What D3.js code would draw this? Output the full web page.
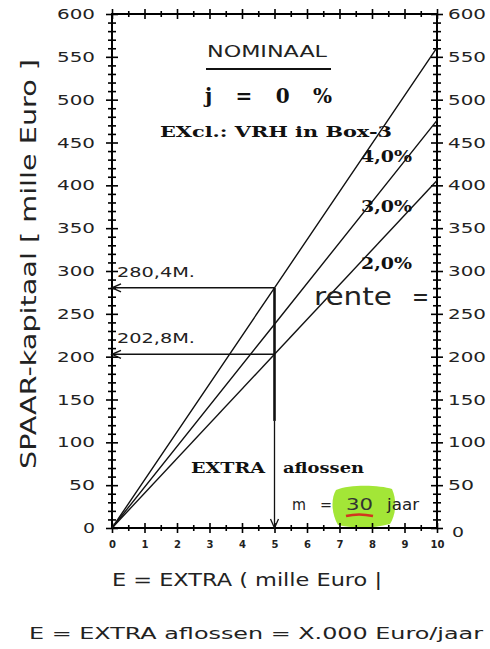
<!DOCTYPE html>
<html>
<head>
<meta charset="utf-8">
<script src="https://cdn.jsdelivr.net/npm/d3@7"></script>
<style>
  html, body { margin: 0; padding: 0; background: #fff; }
  svg { display: block; }
</style>
</head>
<body>
<svg id="chart" width="490" height="649"></svg>
<script>
// ---- data ----
const extraE = [0, 5, 10];                 // E = EXTRA (mille Euro)
const rateLabels = ["4,0%", "3,0%", "2,0%"];
const kapitaal4 = [0, 280.4, 560.8];
const kapitaal3 = [0, 237.9, 475.8];
const kapitaal2 = [0, 202.8, 405.6];
const readE = 5;
const readValues = [280.4, 202.8];
const readLabels = ["280,4M.", "202,8M."];
const xTickValues = [0, 1, 2, 3, 4, 5, 6, 7, 8, 9, 10];
const xMinorTicks = [0.5, 1.5, 2.5, 3.5, 4.5, 5.5, 6.5, 7.5, 8.5, 9.5];
const yTickValues = [0, 50, 100, 150, 200, 250, 300, 350, 400, 450, 500, 550, 600];
const yMinorTicks = d3.range(10, 600, 10).filter(v => v % 50 !== 0);

// ---- layout ----
const svg = d3.select("#chart");
const L = 112, R = 437, T = 14, B = 528;
const x = d3.scaleLinear().domain([0, 10]).range([L, R]);
const y = d3.scaleLinear().domain([0, 600]).range([B, T]);
const sans = "'DejaVu Sans', sans-serif";
const serif = "'DejaVu Serif', serif";

// green highlight behind 30
svg.append("path")
  .attr("d", "M336,490 C350,484 380,485 392,489 C397,500 396,515 390,524 C372,529 350,528 338,525 C331,513 331,498 336,490 Z")
  .attr("fill", "#9ee52c").attr("opacity", 0.95);

// ---- axes ----
function styleAxis(g, cross, horizontal) {
  g.select(".domain").remove();
  g.selectAll(".tick line").attr("stroke", "#000").attr("stroke-width", 1.6);
  if (horizontal) g.selectAll(".tick line").attr("x1", -cross).attr("x2", cross);
  else g.selectAll(".tick line").attr("y1", -cross).attr("y2", cross);
}
const labelLen = d => ({ 1: 12, 2: 26, 3: 38 })[String(d).length];

// left
const gl = svg.append("g").attr("transform", `translate(${L},0)`)
  .call(d3.axisLeft(y).tickValues(yTickValues).tickSize(6).tickPadding(11));
styleAxis(gl, 6, true);
gl.selectAll("text").attr("font-family", sans).attr("font-size", 14.5)
  .attr("textLength", labelLen).attr("lengthAdjust", "spacingAndGlyphs").attr("fill", "#222");
const glm = svg.append("g").attr("transform", `translate(${L},0)`)
  .call(d3.axisLeft(y).tickValues(yMinorTicks).tickSize(4).tickFormat(""));
styleAxis(glm, 4, true);

// right
const gr = svg.append("g").attr("transform", `translate(${R},0)`)
  .call(d3.axisRight(y).tickValues(yTickValues).tickSize(6).tickPadding(5));
styleAxis(gr, 6, true);
gr.selectAll("text").attr("font-family", sans).attr("font-size", 14.5)
  .attr("textLength", labelLen).attr("lengthAdjust", "spacingAndGlyphs").attr("fill", "#222");
gr.selectAll(".tick").filter(d => d === 0).select("text").attr("dy", "0.6em").attr("dx", 4);
const grm = svg.append("g").attr("transform", `translate(${R},0)`)
  .call(d3.axisRight(y).tickValues(yMinorTicks).tickSize(4).tickFormat(""));
styleAxis(grm, 4, true);

// bottom
const gb = svg.append("g").attr("transform", `translate(0,${B})`)
  .call(d3.axisBottom(x).tickValues(xTickValues).tickSize(5).tickPadding(8));
styleAxis(gb, 5, false);
gb.selectAll("text").attr("font-family", sans).attr("font-size", 10).attr("font-weight", "bold").attr("fill", "#222");
const gbm = svg.append("g").attr("transform", `translate(0,${B})`)
  .call(d3.axisBottom(x).tickValues(xMinorTicks).tickSize(3).tickFormat(""));
styleAxis(gbm, 3, false);

// top
const gt = svg.append("g").attr("transform", `translate(0,${T})`)
  .call(d3.axisTop(x).tickValues(xTickValues).tickSize(5).tickFormat(""));
styleAxis(gt, 5, false);
const gtm = svg.append("g").attr("transform", `translate(0,${T})`)
  .call(d3.axisTop(x).tickValues(xMinorTicks).tickSize(3).tickFormat(""));
styleAxis(gtm, 3, false);

// frame
svg.append("rect").attr("x", L).attr("y", T).attr("width", R - L).attr("height", B - T)
  .attr("fill", "none").attr("stroke", "#000").attr("stroke-width", 2);

// ---- series lines ----
const line = d3.line().x(d => x(d[0])).y(d => y(d[1]));
[kapitaal4, kapitaal3, kapitaal2].forEach(vals => {
  svg.append("path").datum(extraE.map((e, i) => [e, vals[i]]))
    .attr("d", line).attr("fill", "none").attr("stroke", "#111").attr("stroke-width", 1.4);
});

// ---- read-off lines ----
const yTop = y(d3.max(readValues));
svg.append("line").attr("x1", x(readE)).attr("x2", x(readE)).attr("y1", yTop).attr("y2", y(125))
  .attr("stroke", "#111").attr("stroke-width", 2.6);
svg.append("line").attr("x1", x(readE)).attr("x2", x(readE)).attr("y1", y(125)).attr("y2", B)
  .attr("stroke", "#111").attr("stroke-width", 1.3);
svg.append("path").attr("d", `M${x(readE) - 4},${B - 9} L${x(readE)},${B} L${x(readE) + 4},${B - 9}`)
  .attr("fill", "none").attr("stroke", "#111").attr("stroke-width", 1.3);

readValues.forEach((v, i) => {
  svg.append("line").attr("x1", x(readE)).attr("x2", L).attr("y1", y(v)).attr("y2", y(v))
    .attr("stroke", "#111").attr("stroke-width", 1.4);
  svg.append("path").attr("d", `M${L + 9},${y(v) - 4} L${L},${y(v)} L${L + 9},${y(v) + 4}`)
    .attr("fill", "none").attr("stroke", "#111").attr("stroke-width", 1.4);
  svg.append("text").attr("x", 117).attr("y", y(v) - 11)
    .attr("font-family", sans).attr("font-size", 14).attr("fill", "#222")
    .attr("textLength", 78).attr("lengthAdjust", "spacingAndGlyphs").text(readLabels[i]);
});

// ---- rate labels ----
const rateY = [162, 212, 269];
rateLabels.forEach((t, i) => {
  svg.append("text").attr("x", 361).attr("y", rateY[i])
    .attr("font-family", serif).attr("font-weight", "bold").attr("font-size", 16)
    .attr("textLength", 51).attr("lengthAdjust", "spacingAndGlyphs").attr("fill", "#111").text(t);
});

// ---- texts ----
function txt(s, xx, yy, opts) {
  const t = svg.append("text").attr("x", xx).attr("y", yy)
    .attr("font-family", opts.family || sans).attr("font-size", opts.size)
    .attr("fill", opts.fill || "#222").text(s);
  if (opts.weight) t.attr("font-weight", opts.weight);
  if (opts.len) t.attr("textLength", opts.len).attr("lengthAdjust", opts.adj || "spacingAndGlyphs");
  if (opts.anchor) t.attr("text-anchor", opts.anchor);
  if (opts.transform) t.attr("transform", opts.transform);
  return t;
}

txt("NOMINAAL", 207, 57, { size: 16, len: 120 });
svg.append("line").attr("x1", 206).attr("x2", 331).attr("y1", 69).attr("y2", 69)
  .attr("stroke", "#111").attr("stroke-width", 2);
txt("j  =  0  %", 205, 103, { family: serif, weight: "bold", size: 20, len: 127, fill: "#111", adj: "spacing" });
txt("EXcl.: VRH in Box-3", 160, 137, { family: serif, weight: "bold", size: 15, len: 232, fill: "#111" });
txt("rente", 314, 305, { size: 24, len: 78 });
txt("=", 412, 305, { size: 24, len: 17 });
txt("EXTRA", 191, 473, { family: serif, weight: "bold", size: 15.5, len: 74, fill: "#111" });
txt("aflossen", 283, 473, { family: serif, weight: "bold", size: 15.5, len: 81, fill: "#111" });
txt("m", 292, 510, { size: 15, len: 14 });
txt("=", 320, 510, { size: 15, len: 12 });
txt("30", 346, 510, { size: 16, len: 27, fill: "#333" });
svg.append("path").attr("d", "M346,516 C354,514 364,514 373,516")
  .attr("fill", "none").attr("stroke", "#d2361e").attr("stroke-width", 2.5);
txt("jaar", 387, 510, { size: 15, len: 32 });

txt("E = EXTRA ( mille Euro |", 112, 586, { size: 17, len: 270 });
txt("E = EXTRA aflossen = X.000 Euro/jaar", 29, 639, { size: 16, len: 454 });
txt("SPAAR-kapitaal [ mille Euro ]", 0, 0, { size: 21, len: 410, anchor: "middle",
  transform: "translate(36,264) rotate(-90)" });
</script>
</body>
</html>
